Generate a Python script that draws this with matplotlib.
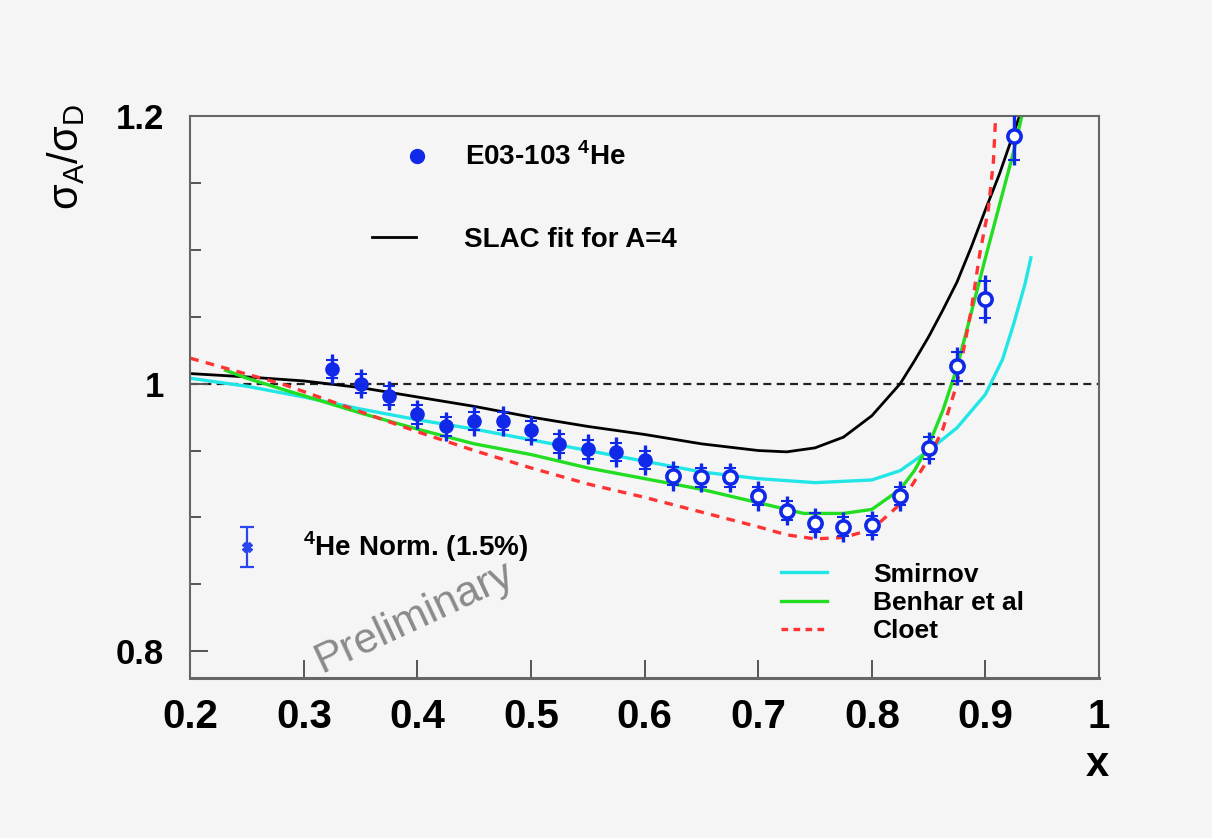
import matplotlib
matplotlib.use("Agg")
import matplotlib.pyplot as plt
from matplotlib.lines import Line2D
import numpy as np

plt.rcParams['font.family'] = ['Liberation Sans', 'DejaVu Sans']
plt.rcParams['mathtext.fontset'] = 'custom'
plt.rcParams['mathtext.rm'] = 'Liberation Sans'
plt.rcParams['mathtext.bf'] = 'Liberation Sans:bold'

# E03-103 4He / D ratio
x_data = [0.325, 0.35, 0.375, 0.4, 0.425, 0.45, 0.475, 0.5, 0.525, 0.55, 0.575, 0.6,
          0.625, 0.65, 0.675, 0.7, 0.725, 0.75, 0.775, 0.8, 0.825, 0.85, 0.875, 0.9, 0.925]
y_data = [1.011, 1.000, 0.991, 0.977, 0.968, 0.972, 0.972, 0.965, 0.955, 0.951, 0.949, 0.943,
          0.931, 0.930, 0.930, 0.916, 0.905, 0.896, 0.893, 0.894, 0.916, 0.952, 1.013, 1.063, 1.185]
stat_err = [0.007] * 21 + [0.008, 0.011, 0.014, 0.018]
tot_err = [0.011] * 21 + [0.012, 0.014, 0.018, 0.022]
x_open_from = 0.625  # open symbols above this x

# normalisation uncertainty
norm_x = [0.25]
norm_y = [0.8776]
norm_err = [0.015]

# SLAC fit for A=4
slac_x = [0.2, 0.25, 0.3, 0.35, 0.4, 0.45, 0.5, 0.55, 0.6, 0.65, 0.7, 0.725, 0.75, 0.775,
          0.8, 0.825, 0.8375, 0.85, 0.8625, 0.875, 0.8875, 0.9, 0.9125, 0.93]
slac_y = [1.0075, 1.005, 1.002, 0.997, 0.990, 0.983, 0.975, 0.968, 0.962, 0.955, 0.950, 0.949,
          0.952, 0.960, 0.976, 1.000, 1.017, 1.035, 1.055, 1.076, 1.102, 1.130, 1.157, 1.200]

# Smirnov
smir_x = [0.2, 0.25, 0.3, 0.35, 0.4, 0.45, 0.5, 0.55, 0.6, 0.65, 0.7, 0.75, 0.8, 0.825,
          0.85, 0.875, 0.9, 0.915, 0.925, 0.935, 0.94]
smir_y = [1.004, 0.998, 0.990, 0.981, 0.973, 0.966, 0.958, 0.950, 0.942, 0.934, 0.929, 0.926,
          0.928, 0.935, 0.950, 0.967, 0.992, 1.018, 1.045, 1.075, 1.094]

# Benhar et al
benh_x = [0.231, 0.25, 0.288, 0.3, 0.35, 0.4, 0.45, 0.5, 0.55, 0.6, 0.65, 0.7, 0.74, 0.775,
          0.8, 0.825, 0.8375, 0.85, 0.8625, 0.875, 0.8875, 0.9, 0.9125, 0.925, 0.932]
benh_y = [1.010, 1.004, 0.994, 0.991, 0.978, 0.966, 0.955, 0.947, 0.937, 0.929, 0.921, 0.911,
          0.903, 0.903, 0.906, 0.921, 0.935, 0.954, 0.980, 1.012, 1.053, 1.094, 1.134, 1.174, 1.200]

# Cloet
cloet_x = [0.2, 0.25, 0.28, 0.3, 0.35, 0.4, 0.45, 0.5, 0.55, 0.6, 0.65, 0.7, 0.725, 0.75,
           0.775, 0.8, 0.825, 0.85, 0.8625, 0.875, 0.8875, 0.895, 0.9025, 0.907, 0.909]
cloet_y = [1.019, 1.007, 1.000, 0.994, 0.979, 0.964, 0.950, 0.937, 0.925, 0.915, 0.904, 0.893,
           0.887, 0.884, 0.885, 0.891, 0.910, 0.944, 0.966, 1.000, 1.055, 1.097, 1.130, 1.166, 1.200]

x_ticks = [0.2, 0.3, 0.4, 0.5, 0.6, 0.7, 0.8, 0.9, 1.0]
x_ticklabels = ['0.2', '0.3', '0.4', '0.5', '0.6', '0.7', '0.8', '0.9', '1']
y_ticks = [0.8, 1.0, 1.2]
y_ticklabels = ['0.8', '1', '1.2']

bg = '#f5f5f5'
blue = '#1028e8'

fig = plt.figure(figsize=(12.12, 8.38), dpi=100, facecolor=bg)
ax = fig.add_axes([0.157, 0.1909, 0.7498, 0.6707])
ax.set_facecolor(bg)

ax.axhline(1.0, color='#222222', lw=1.6, ls=(0, (3.6, 2.4)), zorder=1)
ax.plot(slac_x, slac_y, color='black', lw=2.0, zorder=2)
ax.plot(smir_x, smir_y, color='#22e6e6', lw=2.4, zorder=2)
ax.plot(benh_x, benh_y, color='#22dd22', lw=2.4, zorder=2)
ax.plot(cloet_x, cloet_y, color='#ff3333', lw=2.4, ls=(0, (2.6, 2.2)), zorder=2)

x_arr = np.array(x_data)
y_arr = np.array(y_data)
se = np.array(stat_err)
te = np.array(tot_err)
ax.errorbar(x_arr, y_arr, yerr=te, fmt='none', ecolor=blue, elinewidth=2.4, capsize=0, zorder=4)
ax.errorbar(x_arr, y_arr, yerr=se, fmt='none', ecolor=blue, elinewidth=1.5, capsize=4,
            capthick=1.5, zorder=4)
filled = x_arr < x_open_from
ax.plot(x_arr[filled], y_arr[filled], 'o', color=blue, ms=9.5, zorder=5)
ax.plot(x_arr[~filled], y_arr[~filled], 'o', mfc='white', mec=blue, mew=2.6, ms=9.5, zorder=5)

ax.errorbar(norm_x, norm_y, yerr=norm_err, fmt='X', color='#2a46ee', ms=7, elinewidth=1.6,
            capsize=5, capthick=1.6, zorder=4)

ax.set_xlim(0.2, 1.0)
ax.set_ylim(0.78, 1.2)
ax.set_xticks(x_ticks)
ax.set_xticklabels(x_ticklabels, fontsize=29, fontweight='bold')
ax.set_yticks(y_ticks)
ax.set_yticklabels(y_ticklabels, fontsize=25, fontweight='bold')
ax.set_yticks(np.arange(0.8, 1.2, 0.05), minor=True)
ax.tick_params(axis='x', direction='in', length=13, width=1.4, color='#555555', pad=14.5)
ax.tick_params(axis='y', which='major', direction='in', length=13, width=1.4, color='#555555', pad=19)
ax.tick_params(axis='y', which='minor', direction='in', length=8, width=1.4, color='#555555')
for s in ax.spines.values():
    s.set_color('#666666')
    s.set_linewidth(1.5)
ax.spines['bottom'].set_linewidth(2.2)

fig.text(66 / 1212, 1 - 157 / 838, r'$\mathrm{\sigma_A/\sigma_D}$', rotation=90,
         ha='center', va='center', fontsize=30)
fig.text(1097 / 1212, 1 - 765 / 838, 'x', ha='center', va='center', fontsize=30,
         fontweight='bold')

# legends
leg_a = ax.legend([Line2D([], [], marker='o', color=blue, ls='none', ms=10)],
                  [r'E03-103 $^\mathbf{4}$He'], loc='center left',
                  bbox_to_anchor=(0.2383, 0.927), frameon=False, borderpad=0,
                  borderaxespad=0, handlelength=0.75, handletextpad=1.35,
                  prop={'size': 20, 'weight': 'bold'})
ax.add_artist(leg_a)
leg_b = ax.legend([Line2D([], [], color='black', lw=2.0)], ['SLAC fit for A=4'],
                  loc='center left', bbox_to_anchor=(0.1998, 0.7794), frameon=False,
                  borderpad=0, borderaxespad=0, handlelength=1.6, handletextpad=1.7,
                  prop={'size': 20, 'weight': 'bold'})
ax.add_artist(leg_b)
leg_c = ax.legend([Line2D([], [], color='#22e6e6', lw=2.4),
                   Line2D([], [], color='#22dd22', lw=2.4),
                   Line2D([], [], color='#ff3333', lw=2.4, ls=(0, (2.0, 1.6)))],
                  ['Smirnov', 'Benhar et al', 'Cloet'], loc='center left',
                  bbox_to_anchor=(0.65, 0.1335), frameon=False, borderpad=0,
                  borderaxespad=0, handlelength=1.75, handletextpad=1.75,
                  labelspacing=0.17, prop={'size': 19, 'weight': 'bold'})

ax.text(0.1238, 0.2331, r'$^\mathbf{4}$He Norm. (1.5%)', transform=ax.transAxes,
        ha='left', va='center', fontsize=20, fontweight='bold')
ax.text(0.247, 0.107, 'Preliminary', transform=ax.transAxes, ha='center', va='center',
        rotation=25, fontsize=31, color='#8a8a8a', zorder=0)

fig.savefig('out.png', dpi=100, facecolor=bg)
